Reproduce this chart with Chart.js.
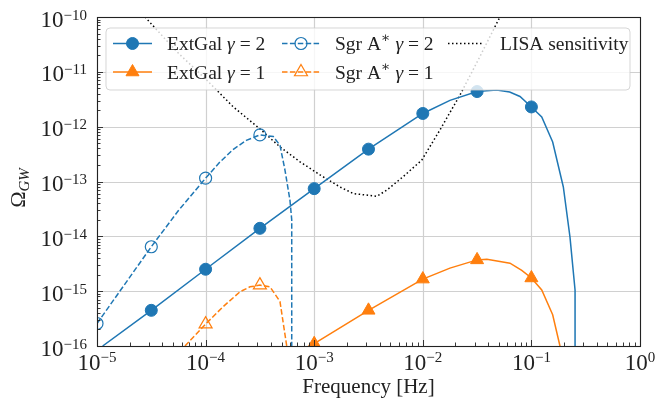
<!DOCTYPE html>
<html>
<head>
<meta charset="utf-8">
<script src="https://cdn.jsdelivr.net/npm/chart.js@4/dist/chart.umd.min.js"></script>
<style>
  html, body { margin: 0; padding: 0; background: #fff; }
  #wrap { width: 667px; height: 403px; }
</style>
</head>
<body>
<div id="wrap"><canvas id="myChart" width="667" height="403"></canvas></div>
<script>
// values (frequency in Hz, Omega_GW)
var extGal2Freq  = [1.127e-5, 3.162e-5, 1e-4, 3.162e-4, 1e-3, 3.162e-3, 1e-2, 1.778e-2, 3.162e-2, 4.786e-2, 6.31e-2, 7.85e-2, 1e-1, 1.245e-1, 1.57e-1, 1.968e-1, 2.265e-1, 2.523e-1, 2.524e-1];
var extGal2Omega = [1.0e-16, 4.47e-16, 2.51e-15, 1.40e-14, 7.41e-14, 3.89e-13, 1.74e-12, 3.02e-12, 4.37e-12, 4.68e-12, 4.27e-12, 3.55e-12, 2.29e-12, 1.51e-12, 5.25e-13, 7.94e-14, 9.77e-15, 1.05e-15, 1e-30];

var extGal1Freq  = [1e-3, 3.162e-3, 1e-2, 1.778e-2, 3.162e-2, 3.89e-2, 6.35e-2, 8.15e-2, 1e-1, 1.245e-1, 1.57e-1, 1.832e-1, 2.0e-1];
var extGal1Omega = [1.10e-16, 4.47e-16, 1.66e-15, 2.63e-15, 3.72e-15, 3.80e-15, 3.24e-15, 2.40e-15, 1.74e-15, 1.05e-15, 3.72e-16, 1.0e-16, 2.5e-17];

var sgr2Freq  = [1e-5, 3.162e-5, 5.623e-5, 1e-4, 1.334e-4, 1.778e-4, 2.371e-4, 3.162e-4, 4.2e-4, 4.842e-4, 5.38e-4, 5.98e-4, 6.21e-4, 6.211e-4];
var sgr2Omega = [2.57e-16, 6.46e-15, 2.95e-14, 1.15e-13, 2.19e-13, 3.80e-13, 5.62e-13, 7.08e-13, 6.6e-13, 4.57e-13, 1.62e-13, 4.57e-14, 2.0e-14, 1e-30];

var sgr1Freq  = [6.46e-5, 1e-4, 1.455e-4, 2.075e-4, 2.564e-4, 3.162e-4, 3.917e-4, 4.842e-4, 5.585e-4, 5.9e-4];
var sgr1Omega = [1.0e-16, 2.51e-16, 5.25e-16, 9.77e-16, 1.20e-15, 1.29e-15, 1.20e-15, 6.46e-16, 1.0e-16, 3.16e-17];

var lisaFreq  = [2.767e-5, 5.42e-5, 1.023e-4, 1.8e-4, 3.162e-4, 4.842e-4, 7.396e-4, 1.13e-3, 1.73e-3, 2.29e-3, 3.758e-3, 4.645e-3, 6.607e-3, 9.77e-3, 1.439e-2, 2.203e-2, 3.243e-2, 5.129e-2];
var lisaOmega = [1e-10, 2.34e-11, 7.08e-12, 2.29e-12, 9.12e-13, 4.27e-13, 2.29e-13, 1.32e-13, 7.94e-14, 6.03e-14, 5.37e-14, 6.92e-14, 1.23e-13, 2.45e-13, 8.71e-13, 3.80e-12, 1.66e-11, 1e-10];

var xDecades = [-5, -4, -3, -2, -1, 0];
var yDecades = [-16, -15, -14, -13, -12, -11, -10];

var BLUE = '#1f77b4';
var ORANGE = '#ff7f0e';
var SERIF = '"Liberation Serif", "DejaVu Serif", serif';

function pts(f, o) {
    return f.map(function (x, i) { return { x: x, y: o[i] }; });
}

// markers sit on every half decade of frequency
function markerAt(r) {
    return function (ctx) {
        var p = ctx.raw;
        if (!p) return 0;
        var h = Math.log10(p.x) * 2;
        return Math.abs(h - Math.round(h)) < 0.005 ? r : 0;
    };
}

var datasets = [
    {
        label: 'ExtGal 2', data: pts(extGal2Freq, extGal2Omega),
        borderColor: BLUE, backgroundColor: BLUE, borderWidth: 1.5,
        pointStyle: 'circle', pointRadius: markerAt(6), pointBorderWidth: 1
    },
    {
        label: 'ExtGal 1', data: pts(extGal1Freq, extGal1Omega),
        borderColor: ORANGE, backgroundColor: ORANGE, borderWidth: 1.5,
        pointStyle: 'triangle', pointRadius: markerAt(7.5), pointBorderWidth: 1
    },
    {
        label: 'Sgr 2', data: pts(sgr2Freq, sgr2Omega),
        borderColor: BLUE, backgroundColor: 'rgba(0,0,0,0)', borderWidth: 1.5, borderDash: [5.5, 2.4],
        pointStyle: 'circle', pointRadius: markerAt(6), pointBorderWidth: 1.2
    },
    {
        label: 'Sgr 1', data: pts(sgr1Freq, sgr1Omega),
        borderColor: ORANGE, backgroundColor: 'rgba(0,0,0,0)', borderWidth: 1.5, borderDash: [5.5, 2.4],
        pointStyle: 'triangle', pointRadius: markerAt(7.5), pointBorderWidth: 1.2
    },
    {
        label: 'LISA', data: pts(lisaFreq, lisaOmega),
        borderColor: '#000', backgroundColor: '#000', borderWidth: 1.5, borderDash: [1.5, 2.5],
        pointRadius: 0
    }
];
datasets.forEach(function (d) {
    d.tension = 0;
    d.clip = 0;
    d.fill = false;
    d.pointBorderColor = d.borderColor;
    d.pointBackgroundColor = d.backgroundColor;
});

function drawRich(ctx, x, y, segs) {
    var cx = x;
    segs.forEach(function (s) {
        ctx.font = (s.italic ? 'italic ' : '') + s.size + 'px ' + SERIF;
        ctx.fillText(s.t, cx, y + (s.dy || 0));
        cx += ctx.measureText(s.t).width;
    });
    return cx - x;
}

var FS = 19.5;
var legendItems = [
    { ds: 0, x: 113, y: 43.5, w: 39, segs: [{ t: 'ExtGal ', size: FS }, { t: 'γ', size: FS, italic: true }, { t: ' = 2', size: FS }] },
    { ds: 1, x: 113, y: 72,   w: 39, segs: [{ t: 'ExtGal ', size: FS }, { t: 'γ', size: FS, italic: true }, { t: ' = 1', size: FS }] },
    { ds: 2, x: 282, y: 43.5, w: 38, segs: [{ t: 'Sgr A', size: FS }, { t: '∗', size: 14, dy: -8 }, { t: ' γ', size: FS, italic: true }, { t: ' = 2', size: FS }] },
    { ds: 3, x: 282, y: 72,   w: 38, segs: [{ t: 'Sgr A', size: FS }, { t: '∗', size: 14, dy: -8 }, { t: ' γ', size: FS, italic: true }, { t: ' = 1', size: FS }] },
    { ds: 4, x: 448, y: 43.5, w: 34, segs: [{ t: 'LISA sensitivity', size: FS }] }
];

var deco = {
    id: 'deco',
    beforeDatasetsDraw: function (chart) {
        var ctx = chart.ctx, a = chart.chartArea;
        var xs = chart.scales.x, ys = chart.scales.y;
        ctx.save();
        ctx.strokeStyle = '#d0d0d0';
        ctx.lineWidth = 1.2;
        xDecades.forEach(function (n) {
            var px = Math.round(xs.getPixelForValue(Math.pow(10, n))) + 0.5;
            ctx.beginPath(); ctx.moveTo(px, a.top); ctx.lineTo(px, a.bottom); ctx.stroke();
        });
        yDecades.forEach(function (n) {
            var py = Math.round(ys.getPixelForValue(Math.pow(10, n))) + 0.5;
            ctx.beginPath(); ctx.moveTo(a.left, py); ctx.lineTo(a.right, py); ctx.stroke();
        });
        ctx.restore();
    },
    afterDatasetsDraw: function (chart) {
        var ctx = chart.ctx, a = chart.chartArea;
        var xs = chart.scales.x, ys = chart.scales.y;
        ctx.save();

        // frame
        ctx.strokeStyle = '#222';
        ctx.lineWidth = 1.1;
        ctx.strokeRect(Math.round(a.left) + 0.5, Math.round(a.top) + 0.5, Math.round(a.right - a.left), Math.round(a.bottom - a.top));

        // inward ticks, major and minor
        ctx.lineWidth = 0.9;
        xDecades.forEach(function (n) {
            for (var k = 1; k <= 9; k++) {
                if (n === 0 && k > 1) break;
                var px = Math.round(xs.getPixelForValue(k * Math.pow(10, n))) + 0.5;
                var len = k === 1 ? 6 : 3.5;
                ctx.beginPath(); ctx.moveTo(px, a.bottom); ctx.lineTo(px, a.bottom - len); ctx.stroke();
            }
        });
        yDecades.forEach(function (n) {
            for (var k = 1; k <= 9; k++) {
                if (n === -10 && k > 1) break;
                var py = Math.round(ys.getPixelForValue(k * Math.pow(10, n))) + 0.5;
                var len = k === 1 ? 6 : 3.5;
                ctx.beginPath(); ctx.moveTo(a.left, py); ctx.lineTo(a.left + len, py); ctx.stroke();
            }
        });

        // tick labels 10^n
        ctx.fillStyle = '#222';
        ctx.textBaseline = 'alphabetic';
        ctx.textAlign = 'left';
        ctx.font = '23px ' + SERIF;
        var bw = ctx.measureText('10').width;
        yDecades.forEach(function (n) {
            var py = ys.getPixelForValue(Math.pow(10, n));
            var ex = '−' + Math.abs(n);
            ctx.font = '15px ' + SERIF;
            var ew = ctx.measureText(ex).width;
            var right = a.left - 10;
            ctx.font = '23px ' + SERIF;
            ctx.fillText('10', right - ew - bw, py + 9.5);
            ctx.font = '15px ' + SERIF;
            ctx.fillText(ex, right - ew, py + 2.5);
        });
        xDecades.forEach(function (n) {
            var px = xs.getPixelForValue(Math.pow(10, n));
            var ex = n < 0 ? '−' + Math.abs(n) : '0';
            ctx.font = '15px ' + SERIF;
            var ew = ctx.measureText(ex).width;
            var start = px - (bw + ew) / 2;
            ctx.font = '23px ' + SERIF;
            ctx.fillText('10', start, a.bottom + 24);
            ctx.font = '15px ' + SERIF;
            ctx.fillText(ex, start + bw, a.bottom + 16);
        });

        // axis titles
        ctx.font = '21px ' + SERIF;
        ctx.textAlign = 'center';
        ctx.fillText('Frequency [Hz]', (a.left + a.right) / 2, 393);

        ctx.save();
        ctx.translate(25, 188);
        ctx.rotate(-Math.PI / 2);
        ctx.textAlign = 'left';
        var tw = 0;
        ctx.font = '22px ' + SERIF; tw += ctx.measureText('Ω').width;
        ctx.font = 'italic 15px ' + SERIF; tw += ctx.measureText('GW').width;
        drawRich(ctx, -tw / 2, 0, [{ t: 'Ω', size: 22 }, { t: 'GW', size: 15, italic: true, dy: 4 }]);
        ctx.restore();

        // legend box
        var lx = 106, ly = 28, lw = 524, lh = 62, r = 4;
        ctx.beginPath();
        ctx.moveTo(lx + r, ly);
        ctx.arcTo(lx + lw, ly, lx + lw, ly + lh, r);
        ctx.arcTo(lx + lw, ly + lh, lx, ly + lh, r);
        ctx.arcTo(lx, ly + lh, lx, ly, r);
        ctx.arcTo(lx, ly, lx + lw, ly, r);
        ctx.closePath();
        ctx.fillStyle = 'rgba(255,255,255,0.8)';
        ctx.fill();
        ctx.strokeStyle = 'rgba(204,204,204,0.8)';
        ctx.lineWidth = 1;
        ctx.stroke();

        legendItems.forEach(function (it) {
            var d = chart.data.datasets[it.ds];
            ctx.save();
            ctx.strokeStyle = d.borderColor;
            ctx.lineWidth = d.borderWidth;
            ctx.setLineDash(d.borderDash || []);
            ctx.beginPath(); ctx.moveTo(it.x, it.y); ctx.lineTo(it.x + it.w, it.y); ctx.stroke();
            ctx.setLineDash([]);
            if (d.pointStyle) {
                ctx.fillStyle = d.backgroundColor;
                ctx.lineWidth = d.pointBorderWidth;
                Chart.helpers.drawPoint(ctx, {
                    pointStyle: d.pointStyle, rotation: 0,
                    radius: d.pointStyle === 'triangle' ? 7.5 : 6,
                    borderWidth: d.pointBorderWidth
                }, it.x + it.w / 2, it.y);
            }
            ctx.restore();
            ctx.fillStyle = '#222';
            ctx.textAlign = 'left';
            drawRich(ctx, it.x + it.w + (it.ds === 4 ? 18 : 15), it.y + 6.5, it.segs);
        });

        ctx.restore();
    }
};

var ctx = document.getElementById('myChart').getContext('2d');

var myChart = new Chart(ctx, {
    type: 'line',
    data: { datasets: datasets },
    options: {
        responsive: false,
        animation: false,
        events: [],
        layout: { padding: { left: 97, right: 27, top: 17, bottom: 57 } },
        plugins: { legend: { display: false }, tooltip: { enabled: false } },
        scales: {
            x: { type: 'logarithmic', min: 1e-5, max: 1, display: false },
            y: { type: 'logarithmic', min: 1e-16, max: 1e-10, display: false }
        }
    },
    plugins: [deco]
});
</script>
</body>
</html>
